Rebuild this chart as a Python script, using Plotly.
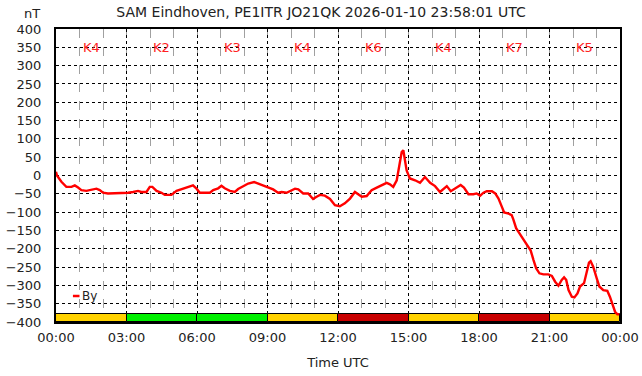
import plotly.graph_objects as go

# ---- data ----
hours = [0.00, 0.04, 0.23, 0.44, 0.66, 0.80, 0.94, 1.08, 1.29, 1.50, 1.72, 1.86, 2.00, 2.21, 2.57, 2.78,
         3.07, 3.28, 3.49, 3.63, 3.85, 3.99, 4.10, 4.28, 4.49, 4.63, 4.91, 5.13, 5.41, 5.62, 5.83, 5.98,
         6.12, 6.19, 6.55, 6.69, 6.90, 7.04, 7.18, 7.40, 7.61, 7.75, 7.96, 8.18, 8.43, 8.60, 8.82,
         9.03, 9.24, 9.45, 9.60, 9.81, 10.02, 10.17, 10.31, 10.52, 10.73, 10.94, 11.09, 11.23, 11.44,
         11.66, 11.87, 12.08, 12.29, 12.51, 12.72, 12.86, 13.01, 13.22, 13.43, 13.65, 13.86, 14.07,
         14.21, 14.35, 14.50, 14.61, 14.71, 14.78, 14.85, 14.92, 15.06, 15.28, 15.49, 15.70, 15.92,
         16.13, 16.34, 16.63, 16.80, 16.98, 17.22, 17.36, 17.55, 17.76, 17.90, 18.05, 18.19, 18.33,
         18.55, 18.69, 18.83, 18.97, 19.07, 19.26, 19.39, 19.46, 19.58, 19.68, 19.82, 19.96, 20.10,
         20.20, 20.32, 20.43, 20.57, 20.74, 20.95, 21.10, 21.24, 21.38, 21.52, 21.62, 21.71, 21.81,
         21.95, 22.06, 22.19, 22.30, 22.47, 22.58, 22.68, 22.75, 22.86, 23.01, 23.12, 23.29, 23.46,
         23.57, 23.69, 23.79, 23.89, 23.97]
by_nt = [10, 0, -17, -31, -31, -27, -33, -40, -42, -40, -36, -40, -47, -49, -49, -47,
         -47, -45, -42, -45, -45, -31, -31, -42, -47, -53, -53, -42, -36, -33, -27, -36,
         -47, -47, -47, -40, -35, -28, -35, -42, -45, -37, -29, -22, -18, -22, -29,
         -33, -38, -47, -45, -47, -40, -36, -38, -49, -49, -64, -58, -53, -55,
         -64, -81, -84, -76, -63, -45, -51, -58, -56, -40, -33, -26, -20,
         -24, -31, -13, 33, 64, 69, 46, 14, -8, -13, -20, -4, -20,
         -29, -45, -29, -43, -35, -26, -33, -51, -51, -49, -55, -47, -43,
         -43, -49, -63, -85, -101, -104, -108, -120, -144, -154, -167, -181, -195,
         -205, -231, -253, -267, -270, -270, -274, -290, -301, -285, -278, -285, -313,
         -331, -333, -322, -303, -294, -263, -238, -234, -249, -281, -303, -313, -315,
         -331, -353, -372, -379, -379]

kp_index = [4, 2, 3, 4, 6, 4, 7, 5]
kp_block_start = [0, 3, 6, 9, 12, 15, 18, 21]

tick_hours = [0, 3, 6, 9, 12, 15, 18, 21, 24]
tick_labels = ["00:00", "03:00", "06:00", "09:00", "12:00", "15:00", "18:00", "21:00", "00:00"]

y_ticks = list(range(-400, 401, 50))

title_text = "SAM Eindhoven, PE1ITR JO21QK 2026-01-10 23:58:01 UTC"


def kp_color(k):
    if k <= 3:
        return "#00f000"
    if k <= 5:
        return "#ffd200"
    return "#c80000"


BAR_BASE = -400
BAR_TOP = -377

W, H = 642, 376
L, R, T, B = 56, 22, 29, 54
PW, PH = W - L - R, H - T - B

fig = go.Figure()

# Kp colour bars
fig.add_trace(go.Bar(
    x=[s + 1.5 for s in kp_block_start],
    y=[BAR_TOP - BAR_BASE] * len(kp_index),
    base=[BAR_BASE] * len(kp_index),
    width=[3] * len(kp_index),
    marker=dict(color=[kp_color(k) for k in kp_index], line=dict(color="#000000", width=1)),
    showlegend=False, hoverinfo="skip",
))

# By line
fig.add_trace(go.Scatter(
    x=hours, y=by_nt, mode="lines", name="By",
    line=dict(color="#ff0000", width=2.4),
    showlegend=False,
))

# K labels
for s, k in zip(kp_block_start, kp_index):
    fig.add_annotation(x=s + 1.5, y=350, text=f"K{k}", showarrow=False,
                       font=dict(color="#ff2222", size=13, family="DejaVu Sans"),
                       xref="x", yref="y")

# manual legend
fig.add_shape(type="line", x0=0.72, x1=1.0, y0=-329, y1=-329, xref="x", yref="y",
              line=dict(color="#ff0000", width=2.5))
fig.add_annotation(x=1.02, y=-329, text="By", showarrow=False, xanchor="left",
                   font=dict(color="#222222", size=12, family="DejaVu Sans"))

# nT label
fig.add_annotation(x=(32 - L) / PW, y=1 + (T - 14) / PH, xref="paper", yref="paper",
                   xanchor="center", yanchor="middle",
                   text="nT", showarrow=False, font=dict(size=13, color="#222222"))

fig.update_layout(
    width=W, height=H,
    margin=dict(l=L, r=R, t=T, b=B, autoexpand=False),
    paper_bgcolor="white", plot_bgcolor="white",
    font=dict(family="DejaVu Sans", size=13, color="#222222"),
    title=dict(text=title_text, x=0.5, xanchor="center", y=1 - 12 / H, yanchor="middle",
               font=dict(size=14, color="#222222"), automargin=False),
    bargap=0,
)

fig.update_xaxes(
    range=[0, 24], tickvals=tick_hours, ticktext=tick_labels,
    showgrid=True, gridcolor="#000000", griddash="dot", gridwidth=1,
    minor=dict(dtick=1, tick0=0, showgrid=True, gridcolor="#a0a0a0", griddash="dash", gridwidth=1),
    showline=True, linecolor="#000000", linewidth=2, mirror=True,
    ticks="outside", ticklen=2, tickcolor="rgba(0,0,0,0)",
    zeroline=False, automargin=False,
    title=dict(text="Time UTC", font=dict(size=13), standoff=14),
)
fig.update_yaxes(
    range=[-400, 400], tickvals=y_ticks,
    showgrid=True, gridcolor="#000000", griddash="dot", gridwidth=1,
    showline=True, linecolor="#000000", linewidth=2, mirror=True,
    ticks="outside", ticklen=10, tickcolor="rgba(0,0,0,0)",
    zeroline=False, automargin=False,
)

fig.write_html("out.html", config={"displayModeBar": False},
               post_script="document.body.style.margin='0';document.body.style.padding='0';")
